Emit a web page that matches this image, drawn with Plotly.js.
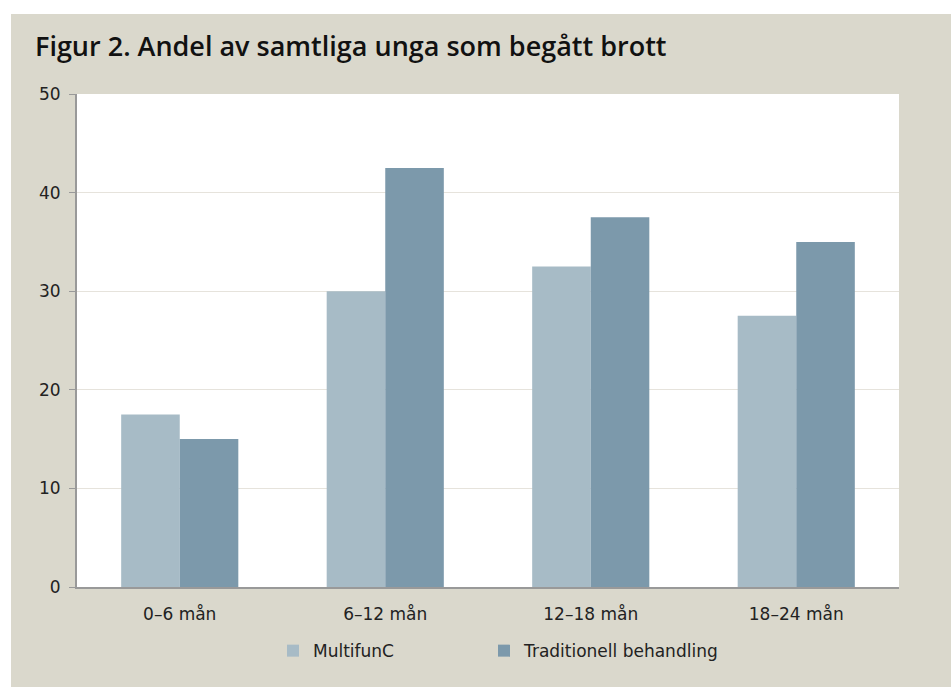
<!DOCTYPE html>
<html>
<head>
<meta charset="utf-8">
<script src="https://cdn.plot.ly/plotly-3.0.1.min.js"></script>
<style>
html,body{margin:0;padding:0;background:#ffffff;width:951px;height:687px;overflow:hidden;}
#frame{position:absolute;left:11px;top:14px;width:940px;height:673px;background:#dad8cc;}
#chart{width:940px;height:673px;}
</style>
</head>
<body>
<div id="frame"><div id="chart"></div></div>
<script>
const categories = ["0–6 mån", "6–12 mån", "12–18 mån", "18–24 mån"];
const multifunC = [17.5, 30, 32.5, 27.5];
const traditionell = [15, 42.5, 37.5, 35];
const seriesNames = ["MultifunC", "Traditionell behandling"];
const yTicks = [0, 10, 20, 30, 40, 50];
const titleText = "Figur 2. Andel av samtliga unga som begått brott";

const font = "DejaVu Sans, sans-serif";

const traces = [
  {type: "bar", name: seriesNames[0], x: categories, y: multifunC, legend: "legend",
   marker: {color: "#a7bbc6", line: {width: 0}}, hoverinfo: "x+y"},
  {type: "bar", name: seriesNames[1], x: categories, y: traditionell, legend: "legend2",
   marker: {color: "#7c99ab", line: {width: 0}}, hoverinfo: "x+y"}
];

const legendBase = {orientation: "h", yanchor: "middle", y: -0.13, xanchor: "left",
  bgcolor: "rgba(0,0,0,0)", font: {family: font, size: 17, color: "#222"}, itemclick: false};

const layout = {
  width: 940, height: 673,
  paper_bgcolor: "#dad8cc",
  plot_bgcolor: "#ffffff",
  margin: {l: 66, r: 52, t: 80, b: 100},
  barmode: "group",
  bargap: 0.43,
  bargroupgap: 0,
  title: {text: titleText, x: 24/940, xanchor: "left", xref: "container",
          y: 1 - 33/673, yanchor: "middle", yref: "container",
          font: {family: "Open Sans, sans-serif", size: 27, weight: 600, color: "#111"}},
  font: {family: font, size: 17, color: "#222"},
  xaxis: {
    type: "category",
    showline: true, linecolor: "#999999", linewidth: 2,
    ticks: "", showgrid: false, zeroline: false,
    tickfont: {family: font, size: 17, color: "#222"},
    ticklabelstandoff: 11
  },
  yaxis: {
    range: [0, 50], tickvals: yTicks,
    showline: true, linecolor: "#999999", linewidth: 2,
    ticks: "outside", ticklen: 6, tickcolor: "#999999", tickwidth: 1,
    showgrid: true, gridcolor: "#e6e3dc", gridwidth: 1,
    zeroline: false,
    tickfont: {family: font, size: 17, color: "#222"},
    ticklabelstandoff: 5
  },
  showlegend: true,
  legend: Object.assign({}, legendBase, {x: (273 - 77) / 822}),
  legend2: Object.assign({}, legendBase, {x: (484 - 77) / 822})
};

Plotly.newPlot("chart", traces, layout, {displayModeBar: false, staticPlot: true});
</script>
</body>
</html>
